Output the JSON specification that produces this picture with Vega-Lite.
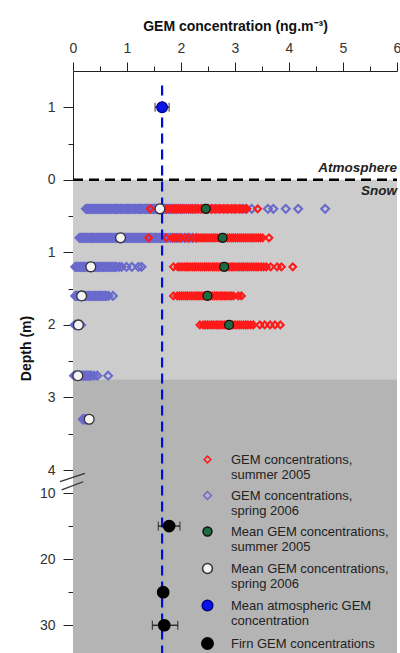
{
  "$schema": "https://vega.github.io/schema/vega-lite/v6.json",
  "autosize": {"type": "none"},
  "padding": {"left": 73, "top": 71, "right": 3, "bottom": 0},
  "width": 324,
  "height": 582,
  "background": "white",
  "config": {"font": "Liberation Sans", "view": {"stroke": null}},
  "datasets": {
    "bgLight": [{"c": 0, "c2": 6, "d": 0, "d2": 2.75}],
    "bgDark": [{"c": 0, "c2": 6, "d": 2.75, "d2": 34.2}],
    "zero": [{"c": 0, "c2": 6, "d": 0}],
    "atmLine": [{"c": 1.65, "d": -1.3, "d2": 34.2}],
    "scatter": [
      {"s": "B", "d": 0.4, "c": [0.24,0.26,0.28,0.31,0.33,0.35,0.37,0.39,0.41,0.44,0.46,0.48,0.50,0.53,0.55,0.57,0.59,0.61,0.63,0.66,0.68,0.70,0.72,0.75,0.77,0.79,0.81,0.83,0.85,0.88,0.90,0.92,0.94,0.97,0.99,1.01,1.03,1.05,1.07,1.10,1.12,1.14,1.16,1.19,1.21,1.23,1.25,1.27,1.29,1.32,1.34,1.36,1.38,1.40,1.42,1.45,1.47,1.49,1.51,1.54,1.56,1.58,1.60,1.62,1.65,1.67,1.69,1.71,1.73,1.76,1.78,1.80,1.83,1.86,1.89,1.92,1.95,1.99,2.02,2.06,2.10,2.14,2.18,2.22,2.27,2.32,2.38,2.44,2.50,2.57,2.64,2.72,2.79,2.86,2.93,3.00,3.08,3.14,3.21,3.31,3.61,3.71,3.94,4.17,4.67]},
      {"s": "B", "d": 0.8, "c": [0.12,0.14,0.16,0.19,0.21,0.23,0.25,0.27,0.29,0.32,0.34,0.36,0.38,0.41,0.43,0.45,0.47,0.49,0.51,0.54,0.56,0.58,0.60,0.63,0.65,0.67,0.69,0.71,0.73,0.76,0.78,0.80,0.82,0.85,0.87,0.89,0.91,0.93,0.95,0.98,1.00,1.02,1.04,1.07,1.09,1.11,1.13,1.15,1.17,1.20,1.22,1.24,1.26,1.29,1.31,1.33,1.35,1.37,1.39,1.42,1.44,1.46,1.48,1.51,1.53,1.55,1.57,1.60,1.62,1.64,1.67,1.69,1.72,1.76,1.80,1.84,1.88,1.92,1.97,2.02,2.07,2.12,2.17,2.22,2.28]},
      {"s": "B", "d": 1.2, "c": [0.04,0.06,0.08,0.11,0.13,0.15,0.17,0.19,0.21,0.24,0.26,0.28,0.30,0.33,0.35,0.37,0.39,0.41,0.43,0.46,0.48,0.50,0.52,0.55,0.57,0.59,0.61,0.64,0.66,0.68,0.71,0.73,0.76,0.78,0.80,0.85,0.90,0.99,1.09,1.21,1.27]},
      {"s": "B", "d": 1.6, "c": [0.04,0.06,0.08,0.11,0.13,0.15,0.17,0.20,0.22,0.24,0.26,0.29,0.31,0.33,0.35,0.38,0.40,0.42,0.44,0.47,0.49,0.51,0.53,0.56,0.58,0.60,0.62,0.66,0.74]},
      {"s": "B", "d": 2.0, "c": [0.03,0.05,0.07,0.09,0.11,0.13,0.15]},
      {"s": "B", "d": 2.7, "c": [0.02,0.04,0.06,0.08,0.10,0.12,0.14,0.16,0.18,0.20,0.22,0.24,0.26,0.28,0.30,0.32,0.34,0.39,0.45,0.65]},
      {"s": "B", "d": 3.3, "c": [0.18,0.20,0.22,0.24,0.26,0.27]},
      {"s": "A", "d": 0.4, "c": [1.43,1.58,1.66,1.73,1.79,1.84,1.88,1.92,1.95,1.99,2.03,2.06,2.10,2.14,2.17,2.21,2.25,2.28,2.32,2.36,2.40,2.43,2.47,2.51,2.55,2.58,2.62,2.66,2.69,2.73,2.77,2.81,2.84,2.88,2.92,2.96,2.99,3.03,3.07,3.11,3.15,3.19,3.22,3.42]},
      {"s": "A", "d": 0.8, "c": [1.40,1.73,1.84,1.89,1.94,1.99,2.07,2.14,2.22,2.29,2.33,2.37,2.41,2.45,2.48,2.52,2.56,2.60,2.63,2.67,2.71,2.75,2.79,2.82,2.86,2.90,2.94,2.97,3.01,3.05,3.09,3.12,3.16,3.20,3.24,3.28,3.31,3.35,3.39,3.43,3.47,3.51,3.63]},
      {"s": "A", "d": 1.2, "c": [1.86,1.94,1.98,2.02,2.06,2.10,2.13,2.17,2.21,2.25,2.28,2.32,2.36,2.40,2.44,2.47,2.51,2.55,2.59,2.62,2.66,2.70,2.74,2.78,2.81,2.85,2.89,2.93,2.96,3.00,3.04,3.08,3.12,3.15,3.19,3.23,3.27,3.31,3.35,3.39,3.43,3.48,3.53,3.58,3.66,3.78,3.86,4.07]},
      {"s": "A", "d": 1.6, "c": [1.86,1.93,1.97,2.01,2.05,2.09,2.12,2.16,2.20,2.24,2.28,2.31,2.35,2.39,2.43,2.47,2.51,2.54,2.58,2.62,2.66,2.70,2.74,2.77,2.81,2.85,2.89,2.93,2.97,3.06,3.12]},
      {"s": "A", "d": 2.0, "c": [2.35,2.41,2.45,2.49,2.53,2.57,2.61,2.65,2.68,2.72,2.76,2.80,2.84,2.88,2.92,2.96,3.00,3.04,3.08,3.12,3.16,3.20,3.24,3.29,3.34,3.46,3.55,3.65,3.74,3.84]}
    ],
    "means": [
      {"s": "C", "d": 0.4, "c": 2.46},
      {"s": "C", "d": 0.8, "c": 2.77},
      {"s": "C", "d": 1.2, "c": 2.80},
      {"s": "C", "d": 1.6, "c": 2.49},
      {"s": "C", "d": 2.0, "c": 2.89},
      {"s": "D", "d": 0.4, "c": 1.61},
      {"s": "D", "d": 0.8, "c": 0.88},
      {"s": "D", "d": 1.2, "c": 0.33},
      {"s": "D", "d": 1.6, "c": 0.16},
      {"s": "D", "d": 2.0, "c": 0.10},
      {"s": "D", "d": 2.7, "c": 0.09},
      {"s": "D", "d": 3.3, "c": 0.30},
      {"s": "E", "d": -1, "c": 1.65},
      {"s": "F", "d": 15, "c": 1.78},
      {"s": "F", "d": 25, "c": 1.67},
      {"s": "F", "d": 30, "c": 1.69}
    ],
    "err": [
      {"d": -1, "c": 1.52, "c2": 1.78},
      {"d": 15, "c": 1.58, "c2": 1.98},
      {"d": 25, "c": 1.62, "c2": 1.72},
      {"d": 30, "c": 1.47, "c2": 1.94}
    ],
    "labels": [
      {"t": "Atmosphere", "c": 6, "d": -0.16},
      {"t": "Snow", "c": 6, "d": 0.15}
    ],
    "brk": [
      {"c": -0.24, "c2": 0.22, "d": 7.05, "d2": 4.87},
      {"c": -0.21, "c2": 0.19, "d": 9.2, "d2": 7.05}
    ]
  },
  "encoding": {
    "x": {
      "field": "c", "type": "quantitative",
      "scale": {"domain": [0, 6], "nice": false, "zero": false},
      "axis": {
        "orient": "top",
        "values": [0,0.5,1,1.5,2,2.5,3,3.5,4,4.5,5,5.5,6],
        "labelExpr": "datum.value % 1 == 0 ? '' + datum.value : ''",
        "tickSize": {"condition": {"test": "datum.value % 1 != 0", "value": 5}, "value": 9},
        "grid": false,
        "labelFontSize": 14, "labelColor": "#333", "labelPadding": 7,
        "labelFlush": false, "labelOverlap": false,
        "domainColor": "#222", "tickColor": "#222",
        "title": "GEM concentration (ng.m⁻³)",
        "titleFontSize": 14, "titleFontWeight": "bold", "titleColor": "#111", "titlePadding": 8
      }
    },
    "y": {
      "field": "d", "type": "quantitative",
      "scale": {"type": "linear", "domain": [-1.5, 4, 10, 34.2], "range": [0, 399, 422, 582], "nice": false, "zero": false},
      "axis": {
        "orient": "left",
        "values": [-1,-0.5,0,0.5,1,1.5,2,2.5,3,3.5,4,10,15,20,25,30],
        "labelExpr": "(datum.value % 1 != 0 || datum.value == 15 || datum.value == 25) ? '' : '' + abs(datum.value)",
        "tickSize": {"condition": {"test": "datum.value % 1 != 0 || datum.value == 15 || datum.value == 25", "value": 5}, "value": 10},
        "grid": false,
        "labelFontSize": 14, "labelColor": "#333", "labelPadding": 8,
        "labelFlush": false, "labelOverlap": false,
        "domainColor": "#222", "tickColor": "#222",
        "title": "Depth (m)",
        "titleFontSize": 14, "titleFontWeight": "bold", "titleColor": "#111", "titlePadding": 6, "titleY": 277
      }
    }
  },
  "layer": [
    {"data": {"name": "bgLight"}, "mark": {"type": "rect", "color": "#cccccc"}, "encoding": {"x2": {"field": "c2"}, "y2": {"field": "d2"}}},
    {"data": {"name": "bgDark"}, "mark": {"type": "rect", "color": "#b4b4b4"}, "encoding": {"x2": {"field": "c2"}, "y2": {"field": "d2"}}},
    {"data": {"name": "zero"}, "mark": {"type": "rule", "color": "#000", "strokeWidth": 2.5, "strokeDash": [10, 6]}, "encoding": {"x2": {"field": "c2"}}},
    {
      "data": {"name": "scatter"},
      "transform": [{"flatten": ["c"]}],
      "mark": {"type": "point", "strokeWidth": 2.1, "opacity": 1},
      "encoding": {
        "shape": {"field": "s", "type": "nominal", "scale": {"domain": ["A","B","C","D","E","F"], "range": ["diamond","diamond","circle","circle","circle","circle"]},
          "legend": {"orient": "none", "legendX": 128, "legendY": 382, "title": null, "padding": 0, "rowPadding": 6, "labelOffset": 17, "labelLimit": 300, "labelFontSize": 13, "labelColor": "#222", "symbolStrokeWidth": 1.5,
            "labelExpr": "datum.value=='A'?['GEM concentrations,','summer 2005']:datum.value=='B'?['GEM concentrations,','spring 2006']:datum.value=='C'?['Mean GEM concentrations,','summer 2005']:datum.value=='D'?['Mean GEM concentrations,','spring 2006']:datum.value=='E'?['Mean atmospheric GEM','concentration']:'Firn GEM concentrations'"}},
        "size": {"field": "s", "type": "nominal", "scale": {"domain": ["A","B","C","D","E","F"], "range": [45, 130, 50, 85, 120, 100]}},
        "fill": {"field": "s", "type": "nominal", "scale": {"domain": ["A","B","C","D","E","F"], "range": ["transparent","transparent","#1d6b3e","#f4f4f4","#0a14e6","#000000"]}},
        "stroke": {"field": "s", "type": "nominal", "scale": {"domain": ["A","B","C","D","E","F"], "range": ["#ff1a1a","#6a6acd","#111111","#333333","#00008b","#000000"]}}
      }
    },
    {"data": {"name": "atmLine"}, "mark": {"type": "rule", "color": "#0010cc", "strokeWidth": 2.2, "strokeDash": [10, 6]}, "encoding": {"y2": {"field": "d2"}}},
    {"data": {"name": "err"}, "mark": {"type": "rule", "color": "#111", "strokeWidth": 1.2}, "encoding": {"x2": {"field": "c2"}}},
    {"data": {"name": "err"}, "transform": [{"fold": ["c", "c2"], "as": ["k", "cap"]}], "mark": {"type": "tick", "orient": "vertical", "size": 9, "thickness": 1.2, "color": "#111"}, "encoding": {"x": {"field": "cap", "type": "quantitative"}}},
    {
      "data": {"name": "means"},
      "mark": {"type": "point", "strokeWidth": 1.3, "opacity": 1},
      "encoding": {
        "shape": {"field": "s", "type": "nominal", "scale": {"domain": ["A","B","C","D","E","F"], "range": ["diamond","diamond","circle","circle","circle","circle"]}},
        "size": {"field": "s", "type": "nominal", "scale": {"domain": ["A","B","C","D","E","F"], "range": [45, 130, 50, 85, 120, 100]}},
        "fill": {"field": "s", "type": "nominal", "scale": {"domain": ["A","B","C","D","E","F"], "range": ["transparent","transparent","#1d6b3e","#f4f4f4","#0a14e6","#000000"]}},
        "stroke": {"field": "s", "type": "nominal", "scale": {"domain": ["A","B","C","D","E","F"], "range": ["#ff1a1a","#6a6acd","#111111","#333333","#00008b","#000000"]}}
      }
    },
    {"data": {"name": "labels"}, "mark": {"type": "text", "align": "right", "baseline": "middle", "fontSize": 13.5, "fontStyle": "italic", "fontWeight": "bold", "color": "#222"}, "encoding": {"text": {"field": "t"}}},
    {"data": {"name": "brk"}, "mark": {"type": "rule", "color": "#333", "strokeWidth": 1.2}, "encoding": {"x2": {"field": "c2"}, "y2": {"field": "d2"}}}
  ]
}
